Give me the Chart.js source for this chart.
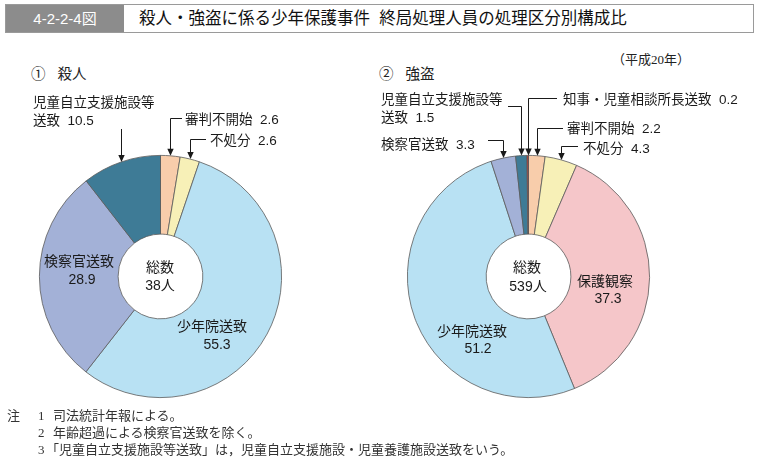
<!DOCTYPE html>
<html lang="ja">
<head>
<meta charset="utf-8">
<script src="https://cdn.jsdelivr.net/npm/chart.js@4.4.0/dist/chart.umd.min.js"></script>
<style>
  body { margin: 0; width: 759px; height: 464px; background: #fff; position: relative; overflow: hidden;
         font-family: "Liberation Sans", "Noto Sans CJK JP", sans-serif; color: #222; }
  #titlebar { position: absolute; left: 5px; top: 4px; width: 749px; height: 29px; border: 1px solid #9a9a9a; box-sizing: border-box; }
  #fig-no { position: absolute; left: 0; top: 0; width: 118px; height: 100%; background: #8c8c8c; color: #fff;
            font-size: 15px; line-height: 27px; text-align: center; }
  #title { position: absolute; left: 133px; top: 0; font-size: 16.5px; line-height: 27px; color: #111; }
  #year { position: absolute; left: 612px; top: 49px; font-size: 13px; font-family: "Liberation Serif", "Noto Sans CJK JP", serif; }
  .sub { position: absolute; top: 62px; font-size: 14.5px; }
  .wrap { position: absolute; top: 0; }
  #notes { position: absolute; left: 7px; top: 407px; font-size: 13px; line-height: 17px; color: #333;
           font-family: "Liberation Serif", "Noto Sans CJK JP", serif; }
  #notes span { display: inline-block; }
</style>
</head>
<body>
<div id="titlebar"><div id="fig-no">4-2-2-4図</div><div id="title">殺人・強盗に係る少年保護事件&nbsp;&nbsp;終局処理人員の処理区分別構成比</div></div>
<div id="year">（平成20年）</div>
<div class="sub" style="left:31px">①&nbsp;&nbsp;&nbsp;殺人</div>
<div class="sub" style="left:379px">②&nbsp;&nbsp;&nbsp;強盗</div>
<div class="wrap" style="left:0"><canvas id="murderChart" width="370" height="464"></canvas></div>
<div class="wrap" style="left:370px"><canvas id="robberyChart" width="389" height="464"></canvas></div>
<div id="notes">
  <div><span style="width:31px">注</span><span style="width:15px">1</span>司法統計年報による。</div>
  <div><span style="width:31px"></span><span style="width:15px">2</span>年齢超過による検察官送致を除く。</div>
  <div><span style="width:31px"></span><span style="width:8px">3</span>「児童自立支援施設等送致」は，児童自立支援施設・児童養護施設送致をいう。</div>
</div>
<script>
// データ
const murderLabels = ["審判不開始", "不処分", "少年院送致", "検察官送致", "児童自立支援施設等送致"];
const murderValues = [2.6, 2.6, 55.3, 28.9, 10.5];
const murderTotal = 38;

const robberyLabels = ["審判不開始", "不処分", "保護観察", "少年院送致", "検察官送致", "児童自立支援施設等送致", "知事・児童相談所長送致"];
const robberyValues = [2.2, 4.3, 37.3, 51.2, 3.3, 1.5, 0.2];
const robberyTotal = 539;

const colorOf = {
    "審判不開始": "#f8cdab",
    "不処分": "#f7f0b7",
    "保護観察": "#f5c6c9",
    "少年院送致": "#b8e1f3",
    "検察官送致": "#a3b1d7",
    "児童自立支援施設等送致": "#3e7b96",
    "知事・児童相談所長送致": "#c9372c"
};

const FONT = '"Liberation Sans", "Noto Sans CJK JP", sans-serif';

// 引き出し線つきラベル (ページ座標)
function murderCallouts(v) {
    return [
        { i: 4, lines: ["児童自立支援施設等", "送致  " + v[4].toFixed(1)], tx: 33, ty: [103, 121], from: null, elbowY: 129 },
        { i: 0, lines: ["審判不開始  " + v[0].toFixed(1)], tx: 185, ty: [120], from: 182, elbowY: 118 },
        { i: 1, lines: ["不処分  " + v[1].toFixed(1)], tx: 210, ty: [141], from: 206, elbowY: 139 }
    ];
}
function robberyCallouts(v) {
    return [
        { i: 6, lines: ["知事・児童相談所長送致  " + v[6].toFixed(1)], tx: 563, ty: [100], from: 557, elbowY: 98 },
        { i: 5, lines: ["児童自立支援施設等", "送致  " + v[5].toFixed(1)], tx: 381, ty: [100, 118], from: 508, elbowY: 106 },
        { i: 0, lines: ["審判不開始  " + v[0].toFixed(1)], tx: 567, ty: [129], from: 563, elbowY: 128 },
        { i: 1, lines: ["不処分  " + v[1].toFixed(1)], tx: 583, ty: [149], from: 578, elbowY: 146 },
        { i: 4, lines: ["検察官送致  " + v[4].toFixed(1)], tx: 381, ty: [145], from: 488, elbowY: 140 }
    ];
}
function murderInner(v) {
    return [
        { text: "検察官送致", x: 79, y: 262 }, { text: v[3].toFixed(1), x: 82, y: 280 },
        { text: "少年院送致", x: 212, y: 327 }, { text: v[2].toFixed(1), x: 217, y: 345 },
        { text: "総数", x: 160, y: 268 }, { text: murderTotal + "人", x: 160, y: 286 }
    ];
}
function robberyInner(v) {
    return [
        { text: "保護観察", x: 605, y: 282 }, { text: v[2].toFixed(1), x: 608, y: 299 },
        { text: "少年院送致", x: 472, y: 332 }, { text: v[3].toFixed(1), x: 478, y: 349 },
        { text: "総数", x: 527, y: 268 }, { text: robberyTotal + "人", x: 528, y: 287 }
    ];
}

const labelPlugin = {
    id: "labelPlugin",
    afterDraw(chart, args, opts) {
        const ctx = chart.ctx;
        const dx = opts.offsetX;
        const arcs = chart.getDatasetMeta(0).data;
        ctx.save();
        ctx.fillStyle = "#1a1a1a";
        ctx.strokeStyle = "#1a1a1a";
        ctx.lineWidth = 1;
        ctx.textBaseline = "middle";

        ctx.font = "13.5px " + FONT;
        ctx.textAlign = "left";
        opts.callouts.forEach(c => {
            c.lines.forEach((t, k) => ctx.fillText(t, c.tx - dx, c.ty[k]));
            const a = arcs[c.i].getProps(["x", "y", "startAngle", "endAngle", "outerRadius"], true);
            const mid = (a.startAngle + a.endAngle) / 2;
            const px = Math.round(a.x + Math.cos(mid) * a.outerRadius) + 0.5;
            const py = a.y + Math.sin(mid) * a.outerRadius;
            ctx.beginPath();
            if (c.from !== null) {
                ctx.moveTo(c.from - dx, c.elbowY + 0.5);
                ctx.lineTo(px, c.elbowY + 0.5);
            } else {
                ctx.moveTo(px, c.elbowY);
            }
            ctx.lineTo(px, py - 6);
            ctx.stroke();
            ctx.beginPath();
            ctx.moveTo(px, py);
            ctx.lineTo(px - 3.2, py - 7);
            ctx.lineTo(px + 3.2, py - 7);
            ctx.closePath();
            ctx.fill();
        });

        ctx.font = "14px " + FONT;
        ctx.textAlign = "center";
        opts.inner.forEach(t => ctx.fillText(t.text, t.x - dx, t.y));
        ctx.restore();
    }
};

function makeDonut(id, labels, values, padding, offsetX, callouts, inner) {
    return new Chart(document.getElementById(id), {
        type: "doughnut",
        data: {
            labels: labels,
            datasets: [{
                data: values,
                backgroundColor: labels.map(l => colorOf[l]),
                borderColor: "#5a5a5a",
                borderWidth: 0.8
            }]
        },
        options: {
            responsive: false,
            animation: false,
            cutout: "35%",
            layout: { padding: padding },
            plugins: {
                legend: { display: false },
                tooltip: { enabled: false },
                labelPlugin: { offsetX: offsetX, callouts: callouts, inner: inner }
            }
        },
        plugins: [labelPlugin]
    });
}

makeDonut("murderChart", murderLabels, murderValues,
    { left: 39, right: 88, top: 155, bottom: 66 }, 0, murderCallouts(murderValues), murderInner(murderValues));
makeDonut("robberyChart", robberyLabels, robberyValues,
    { left: 37, right: 109, top: 155, bottom: 66 }, 370, robberyCallouts(robberyValues), robberyInner(robberyValues));
</script>
</body>
</html>
